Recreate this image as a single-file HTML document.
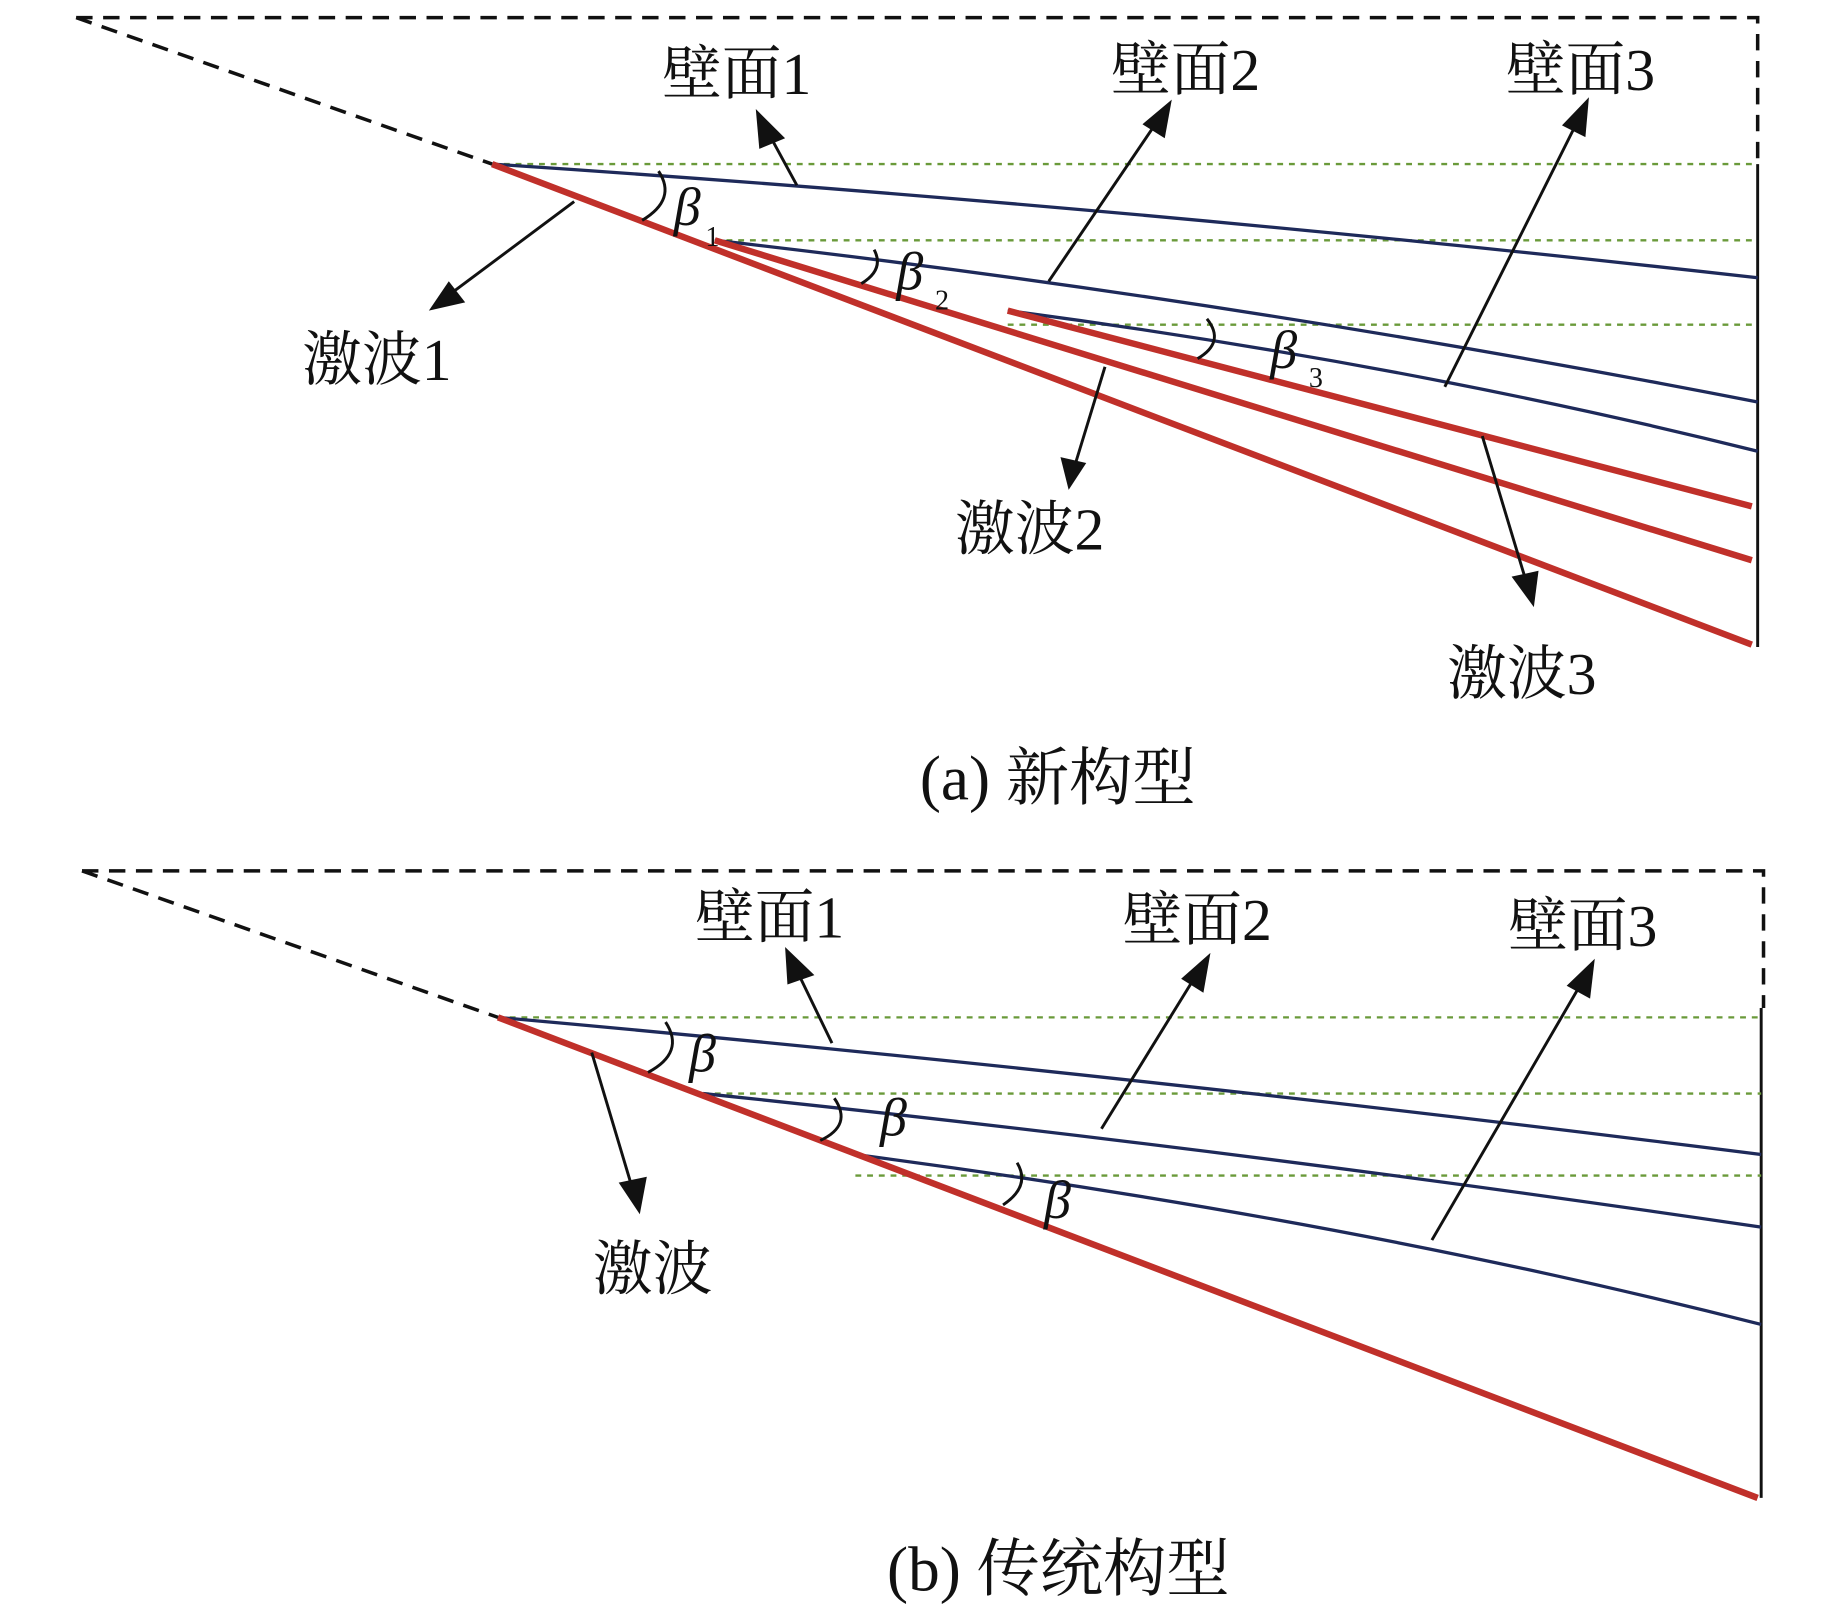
<!DOCTYPE html>
<html><head><meta charset="utf-8"><style>
html,body{margin:0;padding:0;background:#fff;}
svg{display:block;}
text{font-family:"Liberation Serif","Noto Serif CJK SC","Noto Sans CJK SC",serif;fill:#111;}
</style></head><body>
<svg width="1835" height="1621" viewBox="0 0 1566 1383" preserveAspectRatio="none" xmlns="http://www.w3.org/2000/svg">
<g id="a">
<path d="M65 15 L1500 15 L1500 140" fill="none" stroke="#111" stroke-width="3" stroke-dasharray="14 9"/>
<path d="M65 15 L420 140" fill="none" stroke="#111" stroke-width="3" stroke-dasharray="14 9"/>
<line x1="1500" y1="140" x2="1500" y2="552" stroke="#111" stroke-width="2.5"/>
<g stroke="#6a9a3a" stroke-width="2" stroke-dasharray="5 5">
<line x1="420" y1="140" x2="1500" y2="140"/>
<line x1="610" y1="205" x2="1500" y2="205"/>
<line x1="860" y1="277" x2="1500" y2="277"/>
</g>
<g stroke="#1e2a5a" stroke-width="2.8" fill="none">
<path d="M420 140 Q950 175 1500 237"/>
<path d="M610 205 Q1050 255 1500 343"/>
<path d="M860 265 Q1200 310 1500 385"/>
</g>
<g stroke="#c0302a" stroke-width="5.5">
<line x1="420" y1="140" x2="1495" y2="550"/>
<line x1="610" y1="205" x2="1495" y2="478"/>
<line x1="860" y1="265" x2="1495" y2="432"/>
</g>
<g stroke="#111" stroke-width="2.5" fill="none">
<path d="M562 146 Q578 170 548 188"/>
<path d="M746 213 Q755 230 735 242"/>
<path d="M1030 272 Q1046 292 1022 306"/>
</g>
<g stroke="#111" stroke-width="2.5">
<line x1="680" y1="158" x2="655" y2="112"/>
<line x1="895" y1="240" x2="990" y2="100"/>
<line x1="1233" y1="330" x2="1348" y2="100"/>
<line x1="490" y1="172" x2="380" y2="254"/>
<line x1="943" y1="313" x2="917" y2="398"/>
<line x1="1265" y1="372" x2="1303" y2="498"/>
</g>
<g fill="#111">
<polygon points="645,93 670,118 648,127"/>
<polygon points="1000,85 994,118 975,106"/>
<polygon points="1356,83 1353,117 1333,107"/>
<polygon points="366,265 383,240 397,258"/>
<polygon points="912,418 905,390 927,395"/>
<polygon points="1309,518 1290,492 1313,487"/>
</g>
<g font-size="51">
<text x="565" y="80">壁面1</text>
<text x="948" y="77">壁面2</text>
<text x="1285" y="77">壁面3</text>
<text x="258" y="324">激波1</text>
<text x="815" y="469">激波2</text>
<text x="1235" y="592">激波3</text>
</g>
<g font-style="italic" font-size="46">
<text x="575" y="192">β</text>
<text x="765" y="247">β</text>
<text x="1084" y="314">β</text>
</g>
<g font-size="24">
<text x="602" y="210">1</text>
<text x="798" y="264">2</text>
<text x="1117" y="330">3</text>
</g>
<text x="785" y="682" font-size="54">(a) 新构型</text>
</g>
<g id="b">
<path d="M70 743 L1505 743 L1505 860" fill="none" stroke="#111" stroke-width="3" stroke-dasharray="14 9"/>
<path d="M70 743 L425 868" fill="none" stroke="#111" stroke-width="3" stroke-dasharray="14 9"/>
<line x1="1503" y1="860" x2="1503" y2="1278" stroke="#111" stroke-width="2.5"/>
<g stroke="#6a9a3a" stroke-width="2" stroke-dasharray="5 5">
<line x1="425" y1="868" x2="1503" y2="868"/>
<line x1="600" y1="933" x2="1503" y2="933"/>
<line x1="730" y1="1003" x2="1503" y2="1003"/>
</g>
<g stroke="#1e2a5a" stroke-width="2.8" fill="none">
<path d="M425 868 Q950 915 1503 985"/>
<path d="M600 933 Q1050 980 1503 1047"/>
<path d="M730 985 Q1150 1040 1503 1130"/>
</g>
<line x1="425" y1="868" x2="1500" y2="1278" stroke="#c0302a" stroke-width="5.5"/>
<g stroke="#111" stroke-width="2.5" fill="none">
<path d="M568 872 Q585 898 553 915"/>
<path d="M712 937 Q728 960 700 973"/>
<path d="M868 992 Q880 1012 856 1028"/>
</g>
<g stroke="#111" stroke-width="2.5">
<line x1="710" y1="890" x2="680" y2="828"/>
<line x1="940" y1="963" x2="1022" y2="830"/>
<line x1="1222" y1="1058" x2="1350" y2="838"/>
<line x1="505" y1="898" x2="540" y2="1015"/>
</g>
<g fill="#111">
<polygon points="670,808 695,832 672,840"/>
<polygon points="1033,813 1027,847 1008,835"/>
<polygon points="1361,818 1357,852 1337,841"/>
<polygon points="546,1036 528,1009 552,1004"/>
</g>
<g font-size="51">
<text x="593" y="800">壁面1</text>
<text x="958" y="802">壁面2</text>
<text x="1287" y="807">壁面3</text>
<text x="506" y="1100">激波</text>
</g>
<g font-style="italic" font-size="46">
<text x="588" y="914">β</text>
<text x="751" y="969">β</text>
<text x="891" y="1039">β</text>
</g>
<text x="757" y="1357" font-size="54">(b) 传统构型</text>
</g>
</svg>
</body></html>
